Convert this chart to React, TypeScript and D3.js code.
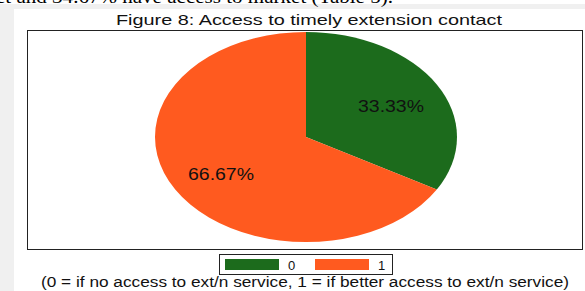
import React from "react";
import * as d3 from "d3";

const categories = ["0", "1"];
const values = [33.33, 66.67];
const colors = ["#1c6b1c", "#ff5a1f"];
const title = "Figure 8: Access to timely extension contact";
const caption = "(0 = if no access to ext/n service, 1 = if better access to ext/n service)";
const docText = "et and 34.67% have access to market (Table 5).";

export default function App() {
  const W = 585, H = 291;
  const cx = 306, cy = 137, ry = 105, rx = 151;
  const sx = rx / ry;
  const pie = d3.pie<number>().sort(null).value((d) => d);
  const arcs = pie(values);
  const arcGen = d3.arc<d3.PieArcDatum<number>>().innerRadius(0).outerRadius(ry);
  const labelArc = d3.arc<d3.PieArcDatum<number>>().innerRadius(ry * 0.65).outerRadius(ry * 0.65);
  const fmt = (v: number) => v.toFixed(2) + "%";
  return (
    <svg width={W} height={H} style={{ position: "absolute", left: 0, top: 0 }} fontFamily="Liberation Sans, Arial, sans-serif">
      <rect x={0} y={0} width={W} height={H} fill="#ffffff" />
      <rect x={0} y={4} width={W} height={5} fill="#f0f0f0" />
      <rect x={0} y={4} width={14} height={H} fill="#f0f0f0" />
      <text x={-4} y={3} fontFamily="Liberation Serif, Times New Roman, serif" fontSize={19} fill="#000" textLength={397} lengthAdjust="spacingAndGlyphs">{docText}</text>
      <text x={116} y={25} fontSize={15} fill="#111" textLength={386} lengthAdjust="spacingAndGlyphs">{title}</text>
      <rect x={27.5} y={30.5} width={555} height={219} fill="#fff" stroke="#222" strokeWidth={1} />
      <g transform={`translate(${cx},${cy}) scale(${sx},1)`}>
        {arcs.map((a, i) => (
          <path key={categories[i]} d={arcGen(a) || ""} fill={colors[i]} />
        ))}
      </g>
      {arcs.map((a, i) => {
        const [lx, ly] = labelArc.centroid(a);
        const x = cx + lx * sx;
        return (
          <text key={"l" + i} x={x - 33} y={cy + ly + 9} fontSize={16} fill="#111" textLength={66} lengthAdjust="spacingAndGlyphs">
            {fmt(values[i])}
          </text>
        );
      })}
      <rect x={219.5} y={254.5} width={173} height={20} fill="#fff" stroke="#222" />
      {categories.map((c, i) => (
        <g key={"leg" + c} transform={`translate(${225 + i * 90},259)`}>
          <rect x={0} y={0} width={54} height={11} fill={colors[i]} />
          <text x={63} y={10.5} fontSize={13} fill="#111">{c}</text>
        </g>
      ))}
      <text x={41} y={287} fontSize={14} fill="#111" textLength={528} lengthAdjust="spacingAndGlyphs">{caption}</text>
    </svg>
  );
}
